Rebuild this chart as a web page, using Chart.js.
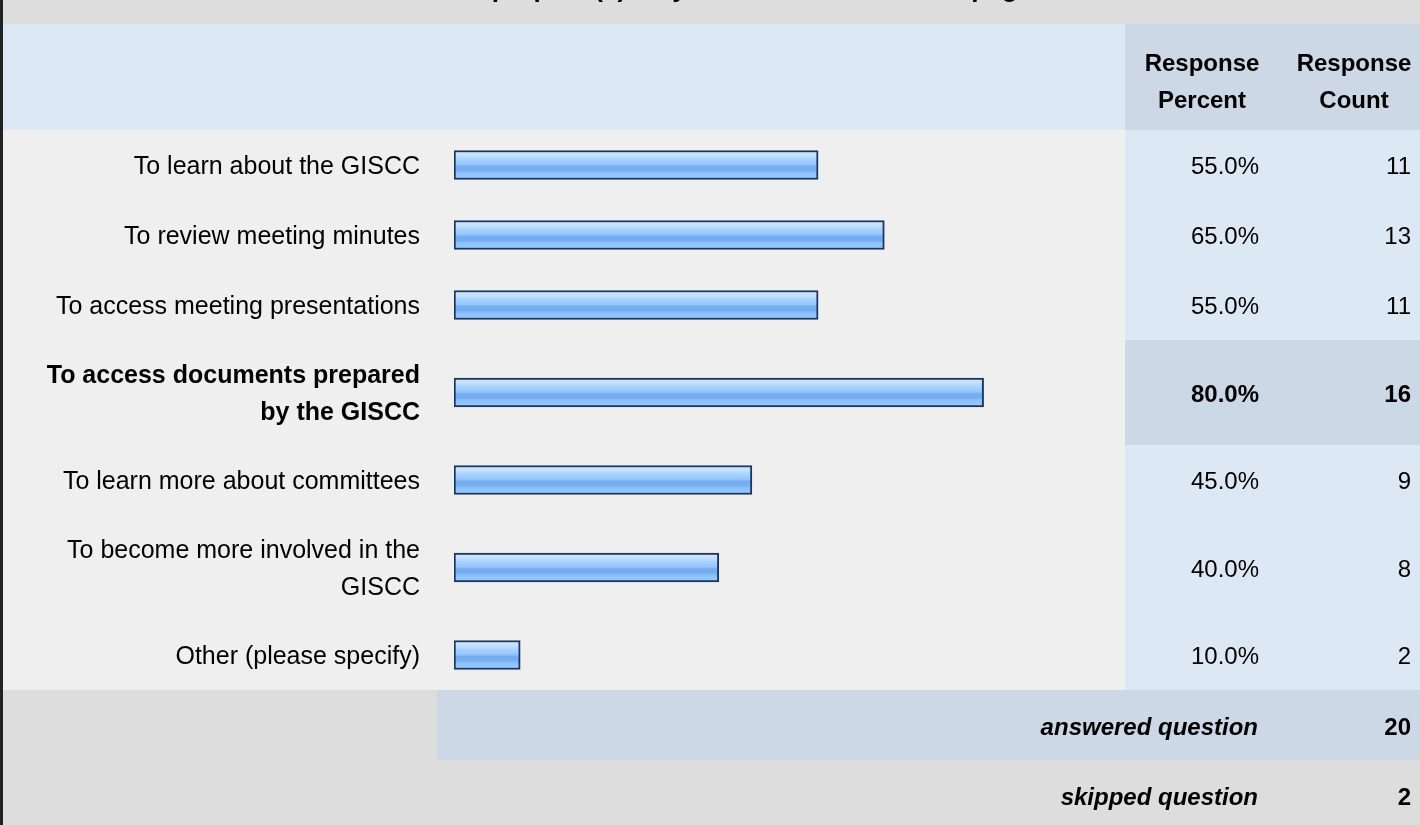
<!DOCTYPE html>
<html>
<head>
<meta charset="utf-8">
<script src="https://cdn.jsdelivr.net/npm/chart.js@4"></script>
<style>
  html, body { margin: 0; padding: 0; background: #ffffff; }
  #wrap { width: 1420px; height: 825px; position: relative; }
</style>
</head>
<body>
<div id="wrap"><canvas id="surveyChart" width="1420" height="825"></canvas></div>
<script>
// données
const titleText = 'For what purpose(s) do you use the GISCC web page?';
const categories = [
    ['To learn about the GISCC'],
    ['To review meeting minutes'],
    ['To access meeting presentations'],
    ['To access documents prepared', 'by the GISCC'],
    ['To learn more about committees'],
    ['To become more involved in the', 'GISCC'],
    ['Other (please specify)']
];
const responsePercent = [55.0, 65.0, 55.0, 80.0, 45.0, 40.0, 10.0];
const responseCount = [11, 13, 11, 16, 9, 8, 2];
const highlightRow = 3;
const headerPercent = ['Response', 'Percent'];
const headerCount = ['Response', 'Count'];
const answeredQuestion = 20;
const skippedQuestion = 2;

// hauteur des lignes : 1 unité pour une ligne de texte, 1.5 pour deux
const rowUnits = categories.map(lines => lines.length > 1 ? 1.5 : 1);
const rowStarts = [];
let acc = 0;
rowUnits.forEach(u => { rowStarts.push(acc); acc += u; });
const totalUnits = acc;
const rowCenters = rowStarts.map((s, i) => s + rowUnits[i] / 2);

const FONT = '"Liberation Sans", Arial, sans-serif';
const COLS_X = 1125;      // début des colonnes de droite
const PCT_RIGHT = 1259;
const CNT_RIGHT = 1411;
const LABEL_RIGHT = 420;
const BAR_H = 29;

function barGradient(ctx) {
    const chart = ctx.chart;
    const yScale = chart.scales.y;
    if (!yScale || !chart.chartArea) return '#92c4fa';
    const yc = yScale.getPixelForValue(rowCenters[ctx.dataIndex]);
    const g = chart.ctx.createLinearGradient(0, yc - BAR_H / 2, 0, yc + BAR_H / 2);
    g.addColorStop(0, '#d4e9ff');
    g.addColorStop(0.18, '#c2e0ff');
    g.addColorStop(0.3, '#a9d2ff');
    g.addColorStop(0.48, '#93c6ff');
    g.addColorStop(0.55, '#76adf0');
    g.addColorStop(0.68, '#76adf0');
    g.addColorStop(0.78, '#8cc1fb');
    g.addColorStop(1, '#9ccbff');
    return g;
}

// Plugin pour le fond du tableau et les textes
const tablePlugin = {
    id: 'surveyTable',
    beforeDraw(chart) {
        const c = chart.ctx;
        const y = chart.scales.y;
        const W = chart.width, H = chart.height;
        const top = y.getPixelForValue(0);
        const bottom = y.getPixelForValue(totalUnits);

        c.save();
        // bande du titre
        c.fillStyle = '#dddddd';
        c.fillRect(0, 0, W, 24);
        // en-tête
        c.fillStyle = '#dde8f5';
        c.fillRect(0, 24, COLS_X, top - 24);
        c.fillStyle = '#ccd8e6';
        c.fillRect(COLS_X, 24, W - COLS_X, top - 24);
        // corps
        c.fillStyle = '#efefef';
        c.fillRect(0, top, COLS_X, bottom - top);
        rowStarts.forEach((s, i) => {
            const y0 = y.getPixelForValue(s);
            const y1 = y.getPixelForValue(s + rowUnits[i]);
            c.fillStyle = i === highlightRow ? '#ccd8e6' : '#dde8f5';
            c.fillRect(COLS_X, y0, W - COLS_X, y1 - y0);
        });
        // pied
        c.fillStyle = '#dddddd';
        c.fillRect(0, bottom, W, H - bottom);
        c.fillStyle = '#ccd8e6';
        c.fillRect(437, bottom, W - 437, 70);
        // bord gauche
        c.fillStyle = '#222222';
        c.fillRect(0, 0, 3, H);
        c.restore();
    },
    afterDatasetsDraw(chart) {
        const c = chart.ctx;
        const y = chart.scales.y;
        const bottom = y.getPixelForValue(totalUnits);
        c.save();
        c.fillStyle = '#000000';
        c.textBaseline = 'alphabetic';

        // titre (coupé en haut)
        c.font = 'bold 26px ' + FONT;
        c.textAlign = 'center';
        c.fillText(titleText, 712, -3);

        // en-têtes de colonnes
        c.font = 'bold 24px ' + FONT;
        headerPercent.forEach((t, k) => c.fillText(t, 1202, 71 + k * 37));
        headerCount.forEach((t, k) => c.fillText(t, 1354, 71 + k * 37));

        categories.forEach((lines, i) => {
            const yc = y.getPixelForValue(rowCenters[i]);
            const bold = i === highlightRow;
            c.textAlign = 'right';
            c.font = (bold ? 'bold ' : '') + '25px ' + FONT;
            const off = (lines.length - 1) * 37 / 2;
            lines.forEach((t, k) => c.fillText(t, LABEL_RIGHT, yc + 9 - off + k * 37));
            c.font = (bold ? 'bold ' : '') + '24px ' + FONT;
            c.fillText(responsePercent[i].toFixed(1) + '%', PCT_RIGHT, yc + 9);
            c.fillText(String(responseCount[i]), CNT_RIGHT, yc + 9);
        });

        // pied
        c.textAlign = 'right';
        c.font = 'italic bold 24px ' + FONT;
        c.fillText('answered question', 1258, bottom + 36 + 9);
        c.fillText('skipped question', 1258, bottom + 106 + 9);
        c.font = 'bold 24px ' + FONT;
        c.fillText(String(answeredQuestion), CNT_RIGHT, bottom + 36 + 9);
        c.fillText(String(skippedQuestion), CNT_RIGHT, bottom + 106 + 9);
        c.restore();
    }
};

const ctx = document.getElementById('surveyChart').getContext('2d');
const surveyChart = new Chart(ctx, {
    type: 'bar',
    data: {
        datasets: [{
            label: 'Response Percent',
            data: responsePercent.map((v, i) => ({ x: v, y: rowCenters[i] })),
            backgroundColor: barGradient,
            borderColor: '#1c3560',
            borderWidth: 2,
            borderSkipped: false,
            barThickness: BAR_H
        }]
    },
    options: {
        indexAxis: 'y',
        responsive: false,
        animation: false,
        layout: {
            padding: { left: 454, right: 304, top: 130, bottom: 135 }
        },
        scales: {
            x: { type: 'linear', min: 0, max: 100, display: false, offset: false },
            y: { type: 'linear', min: 0, max: totalUnits, reverse: true, display: false, offset: false }
        },
        plugins: {
            legend: { display: false },
            tooltip: { enabled: false },
            title: { display: false }
        }
    },
    plugins: [tablePlugin]
});
</script>
</body>
</html>
